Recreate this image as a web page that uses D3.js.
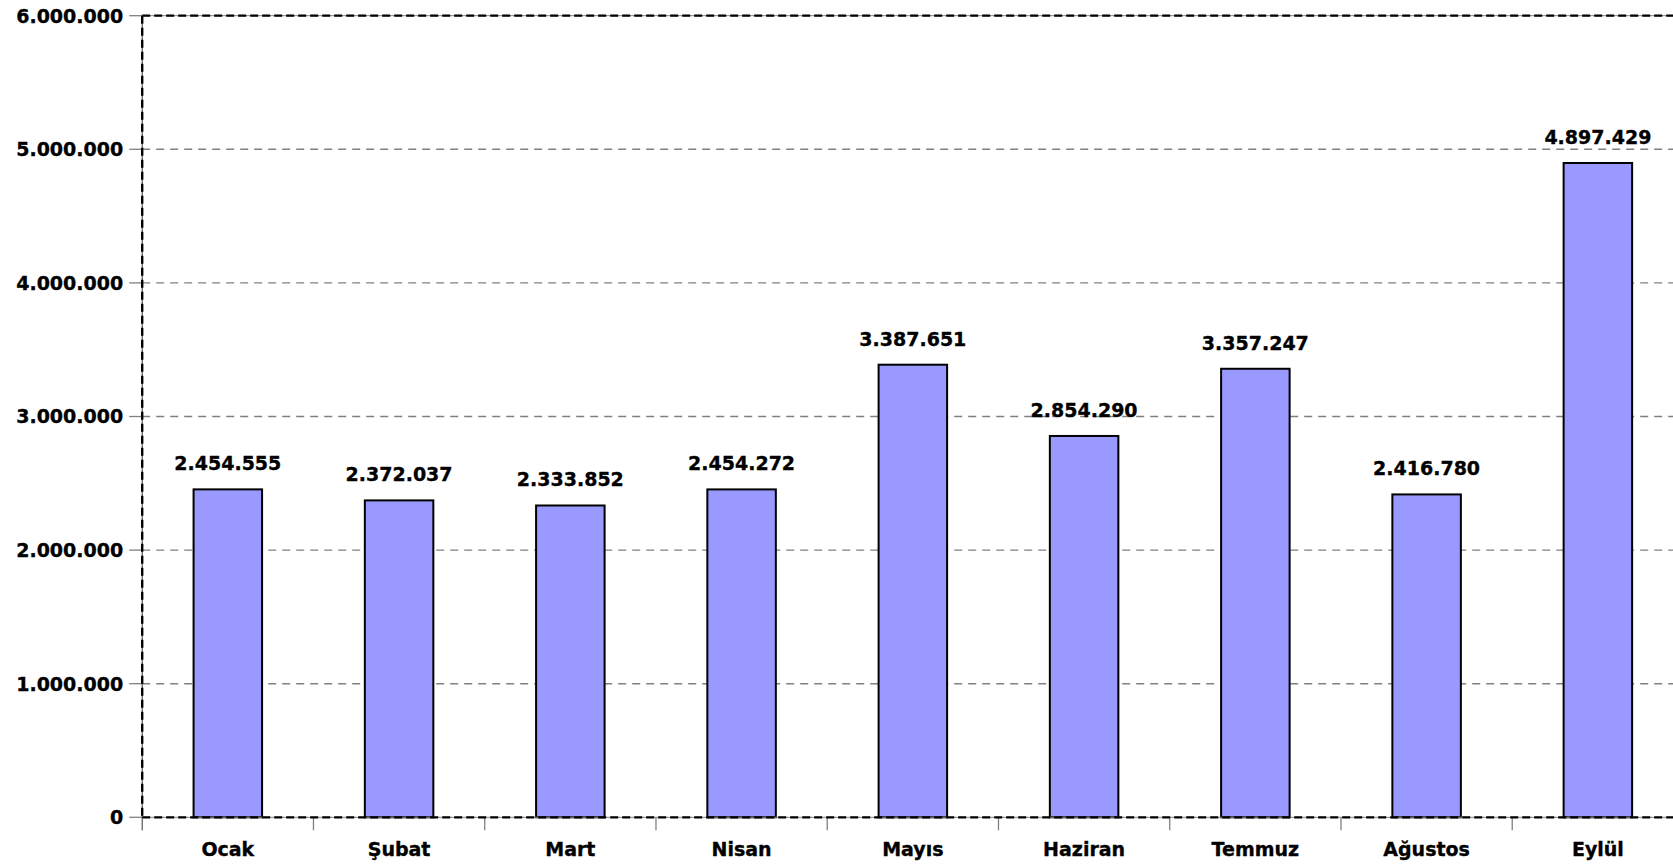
<!DOCTYPE html>
<html>
<head>
<meta charset="utf-8">
<script src="https://cdn.jsdelivr.net/npm/d3@7"></script>
<style>
  body { margin: 0; background: #fff; }
  svg { display: block; }
  text { font-family: "DejaVu Sans", Verdana, sans-serif; font-weight: bold; fill: #000; stroke: #000; stroke-width: 0.35px; }
</style>
</head>
<body>
<script>
var months = ["Ocak", "Şubat", "Mart", "Nisan", "Mayıs", "Haziran", "Temmuz", "Ağustos", "Eylül"];
var values = [2454555, 2372037, 2333852, 2454272, 3387651, 2854290, 3357247, 2416780, 4897429];
var y_ticks = [0, 1000000, 2000000, 3000000, 4000000, 5000000, 6000000];

var w = 1673;
var h = 865;

// plot area (the right side runs past the window on purpose)
var plot_left = 142.2;
var plot_right = 1683.5;
var plot_top = 15.7;
var plot_bottom = 817.3;
var font_size = 19;
var label_gap = 19;
var bar_color = "#9999ff";
var grid_color = "#808080";

var fmt = function(v){
  return d3.format(",")(v).replace(/,/g, ".");
};

var svg = d3.select("body").append("svg")
  .attr("width", w)
  .attr("height", h);

var x = d3.scaleBand()
  .domain(months)
  .range([plot_left, plot_right])
  .paddingInner(0.6)
  .paddingOuter(0.3);

var y = d3.scaleLinear()
  .domain([0, 6000000])
  .range([plot_bottom, plot_top]);

// grid lines
svg.append("g").selectAll("line")
  .data(y_ticks.filter(function(d){ return d > 0 && d < 6000000; }))
  .enter().append("line")
  .attr("x1", plot_left).attr("x2", w)
  .attr("y1", function(d){ return y(d); })
  .attr("y2", function(d){ return y(d); })
  .attr("stroke", grid_color)
  .attr("stroke-width", 1.4)
  .attr("stroke-dasharray", "8,6");

// top frame line (black dashed)
svg.append("line")
  .attr("x1", plot_left).attr("x2", w)
  .attr("y1", y(6000000)).attr("y2", y(6000000))
  .attr("stroke", grid_color).attr("stroke-width", 1);
svg.append("line")
  .attr("x1", plot_left).attr("x2", w)
  .attr("y1", y(6000000)).attr("y2", y(6000000))
  .attr("stroke", "#000").attr("stroke-width", 2.2)
  .attr("stroke-dasharray", "8,4");

// y ticks and labels
var yt = svg.append("g");
yt.selectAll("line")
  .data(y_ticks).enter().append("line")
  .attr("x1", plot_left - 13).attr("x2", plot_left)
  .attr("y1", function(d){ return y(d); })
  .attr("y2", function(d){ return y(d); })
  .attr("stroke", grid_color).attr("stroke-width", 1.3);
yt.selectAll("text")
  .data(y_ticks).enter().append("text")
  .attr("x", plot_left - 19)
  .attr("y", function(d){ return y(d); })
  .attr("dy", "0.36em")
  .attr("text-anchor", "end")
  .attr("font-size", font_size)
  .text(fmt);

// x ticks between categories
var x_ticks = d3.range(1, months.length).map(function(i){ return plot_left + i * x.step(); });
svg.append("g").selectAll("line")
  .data(x_ticks).enter().append("line")
  .attr("x1", function(d){ return d; }).attr("x2", function(d){ return d; })
  .attr("y1", plot_bottom).attr("y2", plot_bottom + 13)
  .attr("stroke", grid_color).attr("stroke-width", 1.3);

// bars
svg.append("g").selectAll("rect")
  .data(values).enter().append("rect")
  .attr("x", function(d, i){ return x(months[i]); })
  .attr("y", function(d){ return y(d); })
  .attr("width", x.bandwidth())
  .attr("height", function(d){ return plot_bottom - y(d); })
  .attr("fill", bar_color)
  .attr("stroke", "#000")
  .attr("stroke-width", 2);

// value labels
svg.append("g").selectAll("text")
  .data(values).enter().append("text")
  .attr("x", function(d, i){ return x(months[i]) + x.bandwidth() / 2; })
  .attr("y", function(d){ return y(d) - label_gap; })
  .attr("text-anchor", "middle")
  .attr("font-size", font_size)
  .text(fmt);

// x axis lines
svg.append("line")
  .attr("x1", plot_left).attr("x2", w)
  .attr("y1", plot_bottom).attr("y2", plot_bottom)
  .attr("stroke", grid_color).attr("stroke-width", 1);
svg.append("line")
  .attr("x1", plot_left).attr("x2", w)
  .attr("y1", plot_bottom).attr("y2", plot_bottom)
  .attr("stroke", "#000").attr("stroke-width", 2.2)
  .attr("stroke-dasharray", "8,4");

// y axis lines
svg.append("line")
  .attr("x1", plot_left).attr("x2", plot_left)
  .attr("y1", plot_top).attr("y2", plot_bottom + 13)
  .attr("stroke", "#333").attr("stroke-width", 1);
svg.append("line")
  .attr("x1", plot_left).attr("x2", plot_left)
  .attr("y1", plot_top).attr("y2", plot_bottom)
  .attr("stroke", "#000").attr("stroke-width", 2.4)
  .attr("stroke-dasharray", "8,4");

// category labels
svg.append("g").selectAll("text")
  .data(months).enter().append("text")
  .attr("x", function(d){ return x(d) + x.bandwidth() / 2; })
  .attr("y", 855.5)
  .attr("text-anchor", "middle")
  .attr("font-size", font_size)
  .text(function(d){ return d; });
</script>
</body>
</html>
